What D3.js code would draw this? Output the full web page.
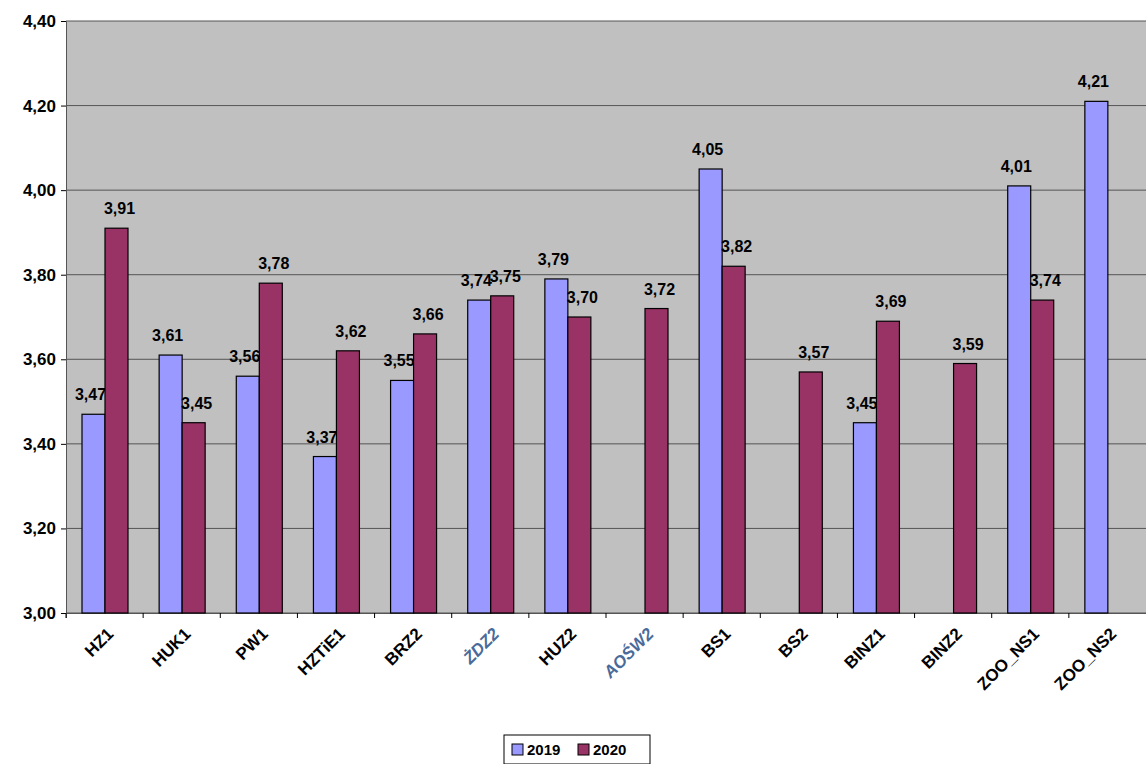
<!DOCTYPE html>
<html><head><meta charset="utf-8">
<script src="https://cdn.jsdelivr.net/npm/d3@7"></script>
<style>body{margin:0;background:#fff}text{font-family:Arial,"Liberation Sans",sans-serif;font-weight:bold}</style>
</head><body><svg id="c" width="1146" height="764"></svg>
<script>
const categories=["HZ1","HUK1","PW1","HZTiE1","BRZ2","ŻDZ2","HUZ2","AOŚW2","BS1","BS2","BINZ1","BINZ2","ZOO_NS1","ZOO_NS2"];
const values2019=[3.47,3.61,3.56,3.37,3.55,3.74,3.79,null,4.05,null,3.45,null,4.01,4.21];
const values2020=[3.91,3.45,3.78,3.62,3.66,3.75,3.70,3.72,3.82,3.57,3.69,3.59,3.74,null];
const yTicks=[3.0,3.2,3.4,3.6,3.8,4.0,4.2,4.4];
const seriesNames=["2019","2020"];
const colors=["#9999ff","#993366"];
const blueCats=["ŻDZ2","AOŚW2"];

const svg=d3.select("#c");
const L=66,T=21,R=1146,B=613;
const x=d3.scaleBand().domain(categories).range([L,R]);
const y=d3.scaleLinear().domain([3.0,4.4]).range([B,T]);
const fmt=v=>d3.format(".2f")(v).replace(".",",");
svg.append("rect").attr("x",L).attr("y",T).attr("width",R-L).attr("height",B-T).attr("fill","#c0c0c0");
svg.append("g").selectAll("line").data(yTicks).join("line")
 .attr("x1",L).attr("x2",R).attr("y1",d=>y(d)).attr("y2",d=>y(d)).attr("stroke","#555").attr("stroke-width",1);
const ya=svg.append("g").attr("transform",`translate(${L},0)`).call(d3.axisLeft(y).tickValues(yTicks).tickFormat(fmt).tickSize(5));
ya.selectAll("text").attr("font-size",17).attr("fill","#000").attr("dx",-2);
ya.select(".domain").attr("stroke","#555");
const xa=svg.append("g").attr("transform",`translate(0,${B})`).call(d3.axisBottom(x).tickSize(5).tickFormat(""));
xa.selectAll(".tick").attr("transform",(d)=>`translate(${x(d)},0)`);
xa.select(".domain").attr("stroke","#555");
svg.append("g").selectAll("text").data(categories).join("text")
 .attr("x",d=>x(d)+x.bandwidth()/2+10).attr("y",B+22)
 .style("transform-box","view-box")
 .style("transform-origin",d=>`${x(d)+x.bandwidth()/2+10}px ${B+22}px`)
 .style("transform","rotate(-45deg)")
 .attr("text-anchor","end").attr("font-size",17)
 .attr("fill",d=>blueCats.includes(d)?"#4a6a9a":"#000")
 .attr("font-style",d=>blueCats.includes(d)?"italic":"normal")
 .text(d=>d);
const bw=23,off=16;
[values2019,values2020].forEach((vals,si)=>{
 const data=categories.map((c,i)=>({c,v:vals[i]})).filter(d=>d.v!=null);
 svg.append("g").selectAll("rect").data(data).join("rect")
  .attr("x",d=>x(d.c)+off+si*bw).attr("width",bw)
  .attr("y",d=>y(d.v)).attr("height",d=>B-y(d.v))
  .attr("fill",colors[si]).attr("stroke","#000").attr("stroke-width",1.2);
 svg.append("g").selectAll("text").data(data).join("text")
  .attr("x",d=>x(d.c)+off+si*bw+bw/2+(si?3:-3)).attr("y",d=>y(d.v)-14)
  .attr("text-anchor","middle").attr("font-size",16).text(d=>fmt(d.v));
});
const lg=svg.append("g").attr("transform","translate(504,735)");
lg.append("rect").attr("width",146).attr("height",29).attr("fill","#fff").attr("stroke","#000");
seriesNames.forEach((s,i)=>{
 lg.append("rect").attr("x",8+i*66).attr("y",9).attr("width",11).attr("height",11).attr("fill",colors[i]).attr("stroke","#000");
 lg.append("text").attr("x",23+i*66).attr("y",20).attr("font-size",15).text(s);
});
</script></body></html>
